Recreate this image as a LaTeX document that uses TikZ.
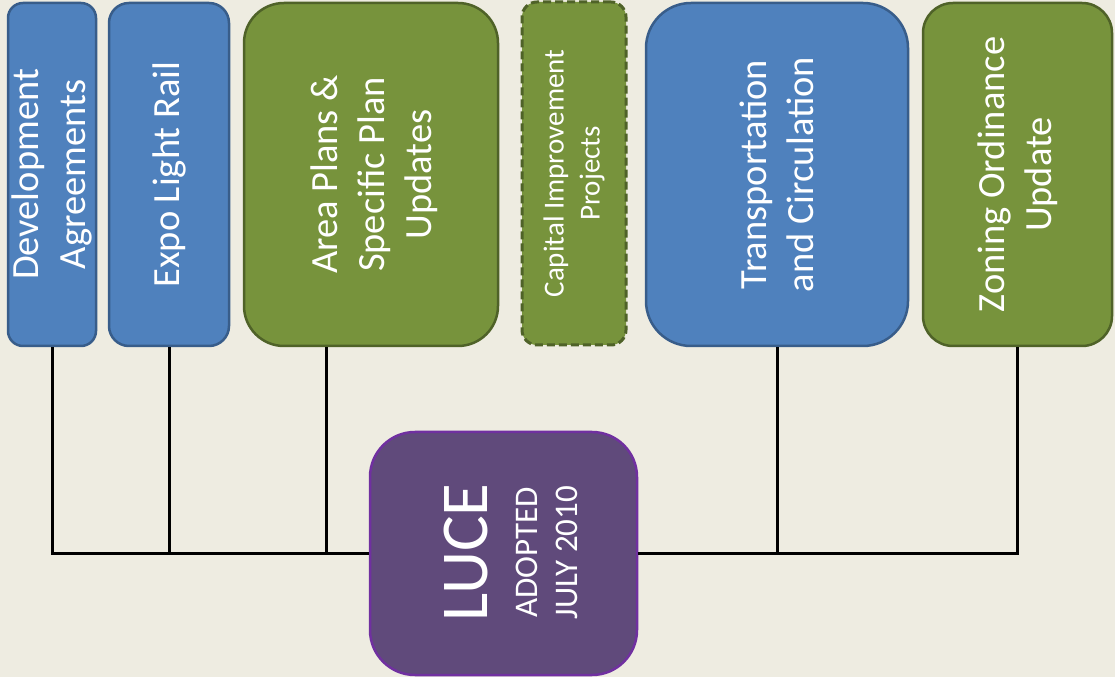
\documentclass[tikz,border=0pt]{standalone}
\usepackage{fontspec}
\setmainfont{Carlito}
\definecolor{bgc}{HTML}{EEECE1}
\definecolor{bluef}{HTML}{4F81BD}
\definecolor{blued}{HTML}{385D8A}
\definecolor{greenf}{HTML}{77933C}
\definecolor{greend}{HTML}{4F6228}
\definecolor{purpf}{HTML}{604A7B}
\definecolor{purpd}{HTML}{7030A0}
\tikzset{
  bluebox/.style={draw=blued, fill=bluef, line width=2.5pt, inner sep=0pt},
  greenbox/.style={draw=greend, fill=greenf, line width=2.5pt, inner sep=0pt},
  dashbox/.style={draw=greend, fill=greenf, line width=3pt, dash pattern=on 8pt off 4pt, inner sep=0pt},
  lucebox/.style={draw=purpd, fill=purpf, line width=2.5pt, inner sep=0pt},
  vtext/.style={rotate=90, text=white, align=center, inner sep=0pt, font=\fontsize{38.5}{47}\selectfont},
  conn/.style={draw=black, line width=3pt}
}
\begin{document}
\begin{tikzpicture}[x=1pt,y=1pt]
\useasboundingbox (0,0) rectangle (1115,677);
\fill[bgc] (0,0) rectangle (1115,677);

\node[bluebox, rounded corners=15pt, minimum width=88pt, minimum height=343pt] (dev) at (52,502.5) {};
\node[bluebox, rounded corners=20pt, minimum width=120pt, minimum height=343pt] (expo) at (169,502.5) {};
\node[greenbox, rounded corners=40pt, minimum width=254pt, minimum height=343pt] (area) at (371,502.5) {};
\node[dashbox, rounded corners=15pt, minimum width=104pt, minimum height=343pt] (cap) at (574,503.5) {};
\node[bluebox, rounded corners=45pt, minimum width=262pt, minimum height=343pt] (trans) at (777,502.5) {};
\node[greenbox, rounded corners=30pt, minimum width=189pt, minimum height=343pt] (zon) at (1017.5,502.5) {};
\node[lucebox, rounded corners=45pt, minimum width=267pt, minimum height=243pt] (luce) at (503.5,123.5) {};

\node[vtext] (devt) at (dev.center) {Development\\Agreements};
\node[vtext] (expot) at (expo.center) {Expo Light Rail};
\node[vtext] (areat) at ([xshift=3pt]area.center) {Area Plans \&\\Specific Plan\\Updates};
\node[vtext, font=\fontsize{29}{36}\selectfont] (capt) at (cap.center) {Capital Improvement\\Projects};
\node[vtext] (transt) at (trans.center) {Transportation\\and Circulation};
\node[vtext] (zont) at (zon.center) {Zoning Ordinance\\Update};
\node[vtext, font=\fontsize{33}{40}\selectfont] (lucet) at ([xshift=7pt,yshift=1pt]luce.center) {{\fontsize{67}{70}\selectfont LUCE}\\[10pt]ADOPTED\\JULY 2010};

\coordinate (areaout) at ([xshift=-45pt]area.south);
\draw[conn] (dev.south) |- (luce.west);
\draw[conn] (expo.south) -- (expo.south |- luce.west);
\draw[conn] (areaout) -- (areaout |- luce.west);
\draw[conn] (zon.south) |- (luce.east);
\draw[conn] (trans.south) -- (trans.south |- luce.east);
\end{tikzpicture}
\end{document}
